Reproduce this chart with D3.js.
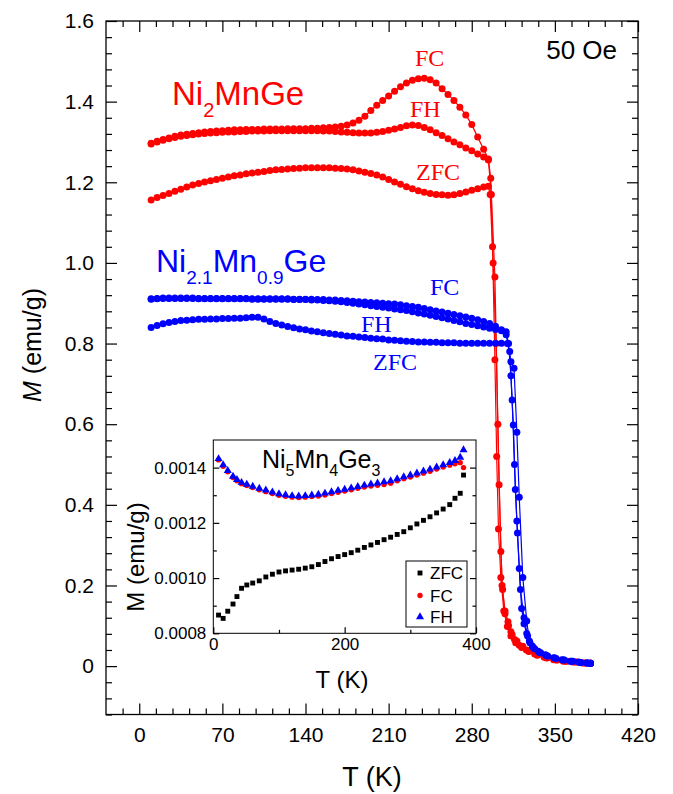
<!DOCTYPE html>
<html>
<head>
<meta charset="utf-8">
<script src="https://cdn.jsdelivr.net/npm/d3@7"></script>
<style>
body{margin:0;background:#fff}
</style>
</head>
<body>
<div id="chart"></div>
<script>
// M(T) at 50 Oe: Ni2MnGe (red), Ni2.1Mn0.9Ge (blue), inset Ni5Mn4Ge3
const SANS = '"Liberation Sans", Arial, sans-serif';
const SERIF = '"Liberation Serif", "Times New Roman", serif';

// ---- Ni2MnGe, low-T part (shared T grid)
const tRed = [10,15,20,25,30,35,40,45,50,55,60,65,70,75,80,85,90,95,100,105,110,115,120,125,130,135,140,145,150,155,160,165,170,175,180,185,190,195,200,205,210,215,220,225,230,235,240,245,250,255,260,265,270,275,280,285,290];
const redFC = [1.297,1.302,1.306,1.310,1.314,1.317,1.319,1.321,1.323,1.325,
  1.326,1.327,1.328,1.329,1.330,1.330,1.331,1.331,1.331,1.332,
  1.332,1.332,1.332,1.333,1.333,1.333,1.333,1.334,1.334,1.335,
  1.336,1.337,1.339,1.342,1.347,1.354,1.364,1.378,1.391,1.403,
  1.414,1.426,1.437,1.446,1.453,1.457,1.458,1.454,1.446,1.432,
  1.418,1.403,1.386,1.367,1.343,1.312,1.282];
const redFH = [1.295,1.300,1.304,1.308,1.311,1.314,1.316,1.318,1.320,1.321,
  1.322,1.323,1.324,1.325,1.325,1.326,1.326,1.327,1.327,1.327,
  1.328,1.328,1.328,1.328,1.328,1.328,1.328,1.328,1.328,1.327,
  1.327,1.326,1.325,1.324,1.323,1.322,1.322,1.322,1.324,1.326,
  1.329,1.332,1.336,1.340,1.342,1.341,1.336,1.330,1.323,1.316,
  1.308,1.300,1.293,1.285,1.278,1.270,1.263];
const redZFC = [1.156,1.162,1.167,1.172,1.178,1.183,1.188,1.193,1.197,1.201,
  1.204,1.207,1.210,1.213,1.216,1.218,1.221,1.223,1.225,1.227,
  1.229,1.231,1.232,1.233,1.234,1.235,1.236,1.236,1.236,1.236,
  1.236,1.235,1.234,1.233,1.231,1.228,1.225,1.222,1.218,1.213,
  1.207,1.201,1.195,1.189,1.184,1.179,1.175,1.172,1.170,1.169,
  1.168,1.169,1.172,1.176,1.180,1.184,1.188];
// transition + paramagnetic tail
const redFCTailT = [294,296,297.5,299.5,301,302.5,304.5,307,310,313,317,322,328,335,343,351,359,367,375,380];
const redFCTailM = [1.258,1.21,1.04,0.76,0.52,0.34,0.22,0.137,0.098,0.075,0.058,0.046,0.036,0.027,0.020,0.015,0.012,0.010,0.008,0.007];
const redFHTailT = [294,296.5,299.5,302,304.5,306,308,310.5,313,316,320,326,333,341,349,357,365,373,380];
const redFHTailM = [1.255,1.17,0.965,0.60,0.284,0.19,0.137,0.11,0.085,0.066,0.052,0.040,0.030,0.022,0.016,0.012,0.010,0.008,0.007];
const redZFCTailT = [294,295.5,298,300.5,303,305.5,308,311,314,318,323,329,336,344,352,360,368,376,380];
const redZFCTailM = [1.190,1.17,1.00,0.80,0.45,0.20,0.13,0.10,0.078,0.062,0.049,0.038,0.028,0.021,0.015,0.012,0.010,0.008,0.007];

// ---- Ni2.1Mn0.9Ge
const tBlue = [10,15,20,25,30,35,40,45,50,55,60,65,70,75,80,85,90,95,100,105,110,115,120,125,130,135,140,145,150,155,160,165,170,175,180,185,190,195,200,205,210,215,220,225,230,235,240,245,250,255,260,265,270,275,280,285,290,295,300,305];
const blueFC = [0.911,0.912,0.913,0.913,0.913,0.913,0.913,0.913,0.912,0.912,
  0.912,0.912,0.912,0.912,0.912,0.912,0.912,0.911,0.911,0.911,
  0.911,0.911,0.911,0.911,0.910,0.910,0.910,0.910,0.909,0.909,
  0.908,0.908,0.907,0.906,0.905,0.904,0.903,0.902,0.901,0.900,
  0.899,0.898,0.896,0.894,0.892,0.890,0.887,0.884,0.881,0.878,
  0.875,0.872,0.869,0.866,0.863,0.859,0.855,0.850,0.843,0.834];
const blueFH = [0.910,0.911,0.912,0.912,0.912,0.912,0.912,0.912,0.911,0.911,
  0.911,0.911,0.911,0.911,0.911,0.911,0.911,0.910,0.910,0.910,
  0.910,0.910,0.910,0.910,0.909,0.909,0.909,0.908,0.908,0.907,
  0.906,0.905,0.904,0.902,0.900,0.898,0.896,0.894,0.892,0.890,
  0.888,0.886,0.884,0.882,0.879,0.876,0.873,0.870,0.867,0.864,
  0.861,0.857,0.854,0.850,0.847,0.844,0.841,0.838,0.835,0.832];
const blueZFC = [0.840,0.845,0.849,0.852,0.855,0.857,0.858,0.859,0.860,0.860,
  0.861,0.861,0.862,0.862,0.863,0.863,0.864,0.865,0.865,0.861,
  0.855,0.850,0.846,0.842,0.839,0.836,0.834,0.831,0.829,0.827,
  0.825,0.823,0.821,0.819,0.818,0.816,0.815,0.813,0.812,0.811,
  0.809,0.808,0.807,0.806,0.805,0.804,0.804,0.803,0.803,0.802,
  0.802,0.802,0.801,0.801,0.801,0.801,0.801,0.801,0.801,0.801];
const blueFCTailT = [309,313,315.6,318,320,323,326.3,328.5,332,337,343,350,357,364,371,377,380];
const blueFCTailM = [0.822,0.755,0.739,0.58,0.419,0.22,0.112,0.062,0.045,0.034,0.026,0.020,0.015,0.012,0.009,0.008,0.007];
const blueFHTailT = [309,311,313,315,316.7,318.5,320,322,324,326.3,329,333,338,344,351,358,365,372,378,380];
const blueFHTailM = [0.829,0.80,0.72,0.598,0.438,0.33,0.242,0.143,0.105,0.081,0.058,0.043,0.033,0.025,0.019,0.015,0.012,0.009,0.008,0.007];
const blueZFCTailT = [310,312,314,316,318,321,324,327,331,336,342,349,356,363,370,377,380];
const blueZFCTailM = [0.800,0.78,0.66,0.50,0.36,0.19,0.12,0.075,0.05,0.037,0.028,0.021,0.016,0.012,0.010,0.008,0.007];

// ---- inset Ni5Mn4Ge3
const insetT = [8,15,22,30,36,43,51,60,70,80,90,100,110,120,130,140,150,160,170,180,190,200,210,220,230,240,250,260,270,280,290,300,310,320,330,340,350,360,368,376,381];
const insetZFC = [0.000866,0.000854,0.000880,0.000906,0.000933,0.000963,0.000975,0.000982,0.000990,0.001004,
  0.001014,0.001022,0.001026,0.001029,0.001032,0.001036,0.001041,0.001049,0.001060,0.001070,
  0.001078,0.001085,0.001092,0.001101,0.001111,0.001120,0.001129,0.001139,0.001148,0.001158,
  0.001168,0.001182,0.001196,0.001209,0.001222,0.001236,0.001250,0.001266,0.001289,0.001307,0.001373];
const insetFC = [0.001428,0.001405,0.001385,0.001364,0.001352,0.001342,0.001335,0.001328,0.001320,0.001313,
  0.001306,0.001300,0.001296,0.001293,0.001292,0.001293,0.001295,0.001297,0.001301,0.001306,
  0.001311,0.001315,0.001320,0.001325,0.001330,0.001333,0.001336,0.001339,0.001343,0.001352,
  0.001360,0.001366,0.001373,0.001380,0.001387,0.001395,0.001402,0.001409,0.001414,0.001418,0.001400];
const insetFH = [0.001432,0.001410,0.001389,0.001368,0.001356,0.001346,0.001339,0.001332,0.001325,0.001318,
  0.001311,0.001305,0.001301,0.001298,0.001297,0.001298,0.001300,0.001303,0.001307,0.001312,
  0.001317,0.001321,0.001326,0.001331,0.001336,0.001340,0.001344,0.001348,0.001352,0.001359,
  0.001366,0.001373,0.001380,0.001387,0.001394,0.001402,0.001410,0.001418,0.001425,0.001437,0.001464];

// ticks
const xMajor = [0,70,140,210,280,350,420];
const yMajor = [0,0.2,0.4,0.6,0.8,1.0,1.2,1.4,1.6];
const ixMajor = [0,200,400];
const ixMinor = [100,300];
const iyMajor = [0.0008,0.0010,0.0012,0.0014];
const iyMinor = [0.0009,0.0011,0.0013];
const legendNames = ['ZFC','FC','FH'];

const W = 673, H = 794;
const svg = d3.select('#chart').append('svg').attr('width',W).attr('height',H);
svg.append('rect').attr('width',W).attr('height',H).attr('fill','#fff');

const F = {left:106, right:638, top:21, bottom:714.5};
const x = d3.scaleLinear().domain([-28,420]).range([F.left,F.right]);
const y = d3.scaleLinear().domain([-0.12,1.6]).range([F.bottom,F.top]);

const xMinor = d3.range(-1,31).map(i=>i*14).filter(v=>v%70!==0);
const yMinor = d3.range(-3,41).filter(i=>i%5!==0).map(i=>+(i*0.04).toFixed(2));

function addAxis(parent, orient, scale, pos, major, minor, bigLen, smallLen, fmt, pad, fs){
  const mk = {bottom:d3.axisBottom, top:d3.axisTop, left:d3.axisLeft, right:d3.axisRight}[orient];
  const tr = (orient==='bottom'||orient==='top') ? `translate(0,${pos})` : `translate(${pos},0)`;
  const gMin = parent.append('g').attr('transform',tr)
    .call(mk(scale).tickValues(minor).tickSize(-smallLen).tickFormat(''));
  const gMaj = parent.append('g').attr('transform',tr)
    .call(mk(scale).tickValues(major).tickSize(-bigLen).tickPadding(pad).tickFormat(fmt || (()=>'')));
  [gMin,gMaj].forEach(g=>{
    g.attr('font-family',SANS);
    g.select('.domain').remove();
    g.selectAll('line').attr('stroke','#000').attr('stroke-width',1.2);
    g.selectAll('text').attr('font-size',fs).attr('fill','#000');
  });
}

const yFmt = d => d===0 ? '0' : d3.format('.1f')(d);
addAxis(svg,'bottom',x,F.bottom,xMajor,xMinor,11,6,d3.format('d'),13,21);
addAxis(svg,'top',x,F.top,xMajor,xMinor,11,6,null,0,21);
addAxis(svg,'left',y,F.left,yMajor,yMinor,11,6,yFmt,12,21);
addAxis(svg,'right',y,F.right,yMajor,yMinor,11,6,null,0,21);

svg.append('rect').attr('x',F.left).attr('y',F.top)
  .attr('width',F.right-F.left).attr('height',F.bottom-F.top)
  .attr('fill','none').attr('stroke','#000').attr('stroke-width',1.3);

// axis titles
svg.append('text').attr('x',372).attr('y',786).attr('text-anchor','middle')
  .attr('font-family',SANS).attr('font-size',27).text('T (K)');
const yt = svg.append('text').attr('transform','translate(41,345) rotate(-90)')
  .attr('text-anchor','middle').attr('font-family',SANS).attr('font-size',25);
yt.append('tspan').attr('font-style','italic').text('M');
yt.append('tspan').text(' (emu/g)');

svg.append('text').attr('x',617).attr('y',59).attr('text-anchor','end')
  .attr('font-family',SANS).attr('font-size',26).text('50 Oe');

// series
function build(tLow, mLow, tTail, mTail){
  const pts = tLow.map((t,i)=>[t,mLow[i]]);
  tTail.forEach((t,i)=>pts.push([t,mTail[i]]));
  return pts;
}
const series = [
  {pts:build(tRed,redZFC,redZFCTailT,redZFCTailM), c:'#ff0000'},
  {pts:build(tRed,redFH,redFHTailT,redFHTailM), c:'#ff0000'},
  {pts:build(tRed,redFC,redFCTailT,redFCTailM), c:'#ff0000'},
  {pts:build(tBlue,blueZFC,blueZFCTailT,blueZFCTailM), c:'#0000ff'},
  {pts:build(tBlue,blueFH,blueFHTailT,blueFHTailM), c:'#0000ff'},
  {pts:build(tBlue,blueFC,blueFCTailT,blueFCTailM), c:'#0000ff'}
];
const line = d3.line().x(d=>x(d[0])).y(d=>y(d[1]));
series.forEach(s=>{
  const g = svg.append('g');
  g.append('path').attr('d',line(s.pts)).attr('fill','none').attr('stroke',s.c).attr('stroke-width',1.2);
  g.selectAll('circle').data(s.pts).enter().append('circle')
    .attr('cx',d=>x(d[0])).attr('cy',d=>y(d[1])).attr('r',3.5).attr('fill',s.c);
});

// compound names
function formula(xp, yp, parts, color, fs, sfs, shift){
  const t = svg.append('text').attr('x',xp).attr('y',yp).attr('fill',color)
    .attr('font-family',SANS).attr('font-size',fs);
  let sub = false;
  parts.forEach((p,i)=>{
    const isSub = i%2===1;
    const ts = t.append('tspan').text(p).attr('font-size',isSub?sfs:fs);
    if(isSub!==sub){ ts.attr('dy', isSub?shift:-shift); sub=isSub; }
  });
}
formula(172,105,['Ni','2','MnGe'],'#ff0000',33,20,12);
formula(156,272,['Ni','2.1','Mn','0.9','Ge'],'#0000ff',32,19,12);

// curve labels
const curveLabels = [
  {t:'FC', x:415, y:66, c:'#ff0000'},
  {t:'FH', x:410, y:117, c:'#ff0000'},
  {t:'ZFC', x:416, y:180, c:'#ff0000'},
  {t:'FC', x:430, y:295, c:'#0000ff'},
  {t:'FH', x:361, y:332, c:'#0000ff'},
  {t:'ZFC', x:373, y:370, c:'#0000ff'}
];
curveLabels.forEach(l=>{
  svg.append('text').attr('x',l.x).attr('y',l.y).attr('fill',l.c)
    .attr('font-family',SERIF).attr('font-size',24).text(l.t);
});

// ---- inset
const I = {left:213.3, right:476, top:440, bottom:633.3};
const ix = d3.scaleLinear().domain([0,400]).range([I.left,I.right]);
const iy = d3.scaleLinear().domain([0.0008,0.0015]).range([I.bottom,I.top]);
const ins = svg.append('g');
ins.append('rect').attr('x',I.left).attr('y',I.top).attr('width',I.right-I.left)
  .attr('height',I.bottom-I.top).attr('fill','#fff');
addAxis(ins,'bottom',ix,I.bottom,ixMajor,ixMinor,6,3.5,d3.format('d'),5,17);
addAxis(ins,'left',iy,I.left,iyMajor,iyMinor,6,3.5,d3.format('.4f'),7,17);
addAxis(ins,'right',iy,I.right,iyMajor,iyMinor,6,3.5,null,0,17);

const sq = d3.symbol(d3.symbolSquare,24);
const tri = d3.symbol(d3.symbolTriangle,28);
ins.selectAll('path.zfc').data(insetT).enter().append('path').attr('class','zfc')
  .attr('d',sq).attr('transform',(t,i)=>`translate(${ix(t)},${iy(insetZFC[i])})`).attr('fill','#000');
ins.selectAll('circle.fc').data(insetT).enter().append('circle').attr('class','fc')
  .attr('cx',t=>ix(t)).attr('cy',(t,i)=>iy(insetFC[i])).attr('r',2.7).attr('fill','#ff0000');
ins.selectAll('path.fh').data(insetT).enter().append('path').attr('class','fh')
  .attr('d',tri).attr('transform',(t,i)=>`translate(${ix(t)},${iy(insetFH[i])})`).attr('fill','#0000ff');

ins.append('rect').attr('x',I.left).attr('y',I.top).attr('width',I.right-I.left)
  .attr('height',I.bottom-I.top).attr('fill','none').attr('stroke','#000').attr('stroke-width',1);

// inset titles
ins.append('text').attr('x',342).attr('y',688).attr('text-anchor','middle')
  .attr('font-family',SANS).attr('font-size',24).text('T (K)');
ins.append('text').attr('transform','translate(144,557) rotate(-90)').attr('text-anchor','middle')
  .attr('font-family',SANS).attr('font-size',24).text('M (emu/g)');
formula(262,468,['Ni','5','Mn','4','Ge','3'],'#000',25,16,8);

// inset legend
const lg = ins.append('g');
lg.append('rect').attr('x',406).attr('y',561).attr('width',61).attr('height',66)
  .attr('fill','#fff').attr('stroke','#000').attr('stroke-width',1);
const legY = [573,595.5,617];
legendNames.forEach((n,i)=>{
  const sy = legY[i];
  if(i===0) lg.append('path').attr('d',sq).attr('transform',`translate(420,${sy})`).attr('fill','#000');
  if(i===1) lg.append('circle').attr('cx',420).attr('cy',sy).attr('r',2.7).attr('fill','#ff0000');
  if(i===2) lg.append('path').attr('d',tri).attr('transform',`translate(420,${sy})`).attr('fill','#0000ff');
  lg.append('text').attr('x',430).attr('y',sy+6).attr('font-family',SANS).attr('font-size',17).text(n);
});
</script>
</body>
</html>
